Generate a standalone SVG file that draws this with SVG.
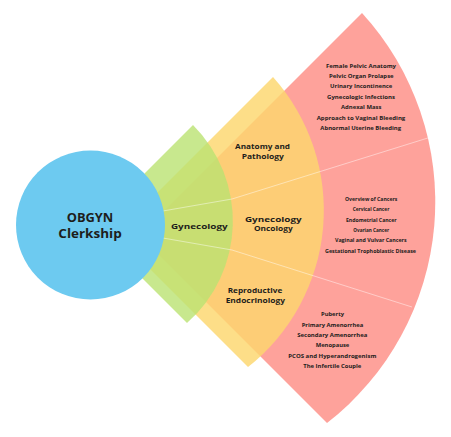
<svg xmlns="http://www.w3.org/2000/svg" width="451" height="437" viewBox="0 0 451 437">
  <style>
    text { font-family: "Open Sans", "Liberation Sans", sans-serif; font-weight: 700; fill: #1d1d1b; text-anchor: middle; }
    .big { font-size: 11.8px; }
    .mid { font-size: 7.8px; }
    .small { font-size: 6px; }
    .divider { fill: none; stroke: #ffffff; stroke-width: 0.9; stroke-opacity: 0.5; }
  </style>
  <rect width="451" height="437" fill="#ffffff"/>

  <g id="topics-sector">
    <path d="M139.5 235.5 L362 13 A280 280 0 0 1 327 423 Z" fill="#fea29b"/>
  </g>

  <g id="subspecialty-sector">
    <path d="M115.5 234.5 L273 77 A200 200 0 0 1 248 367 Z" fill="#fdd76e" fill-opacity="0.82"/>
  </g>

  <g id="gynecology">
    <path d="M91 227 L193 125 A136 136 0 0 1 187 323 Z" fill="#bae272" fill-opacity="0.8"/>
  </g>

  <g id="dividers">
    <polyline class="divider" points="160,211.5 232,199 431,137"/>
    <polyline class="divider" points="160,237.5 232,250 412,307"/>
  </g>

  <g id="obgyn-clerkship">
    <circle cx="90.5" cy="225" r="74.5" fill="#6dcaf0"/>
    <text class="big" x="90" y="222.3" textLength="46.6" lengthAdjust="spacingAndGlyphs">OBGYN</text>
    <text class="big" x="90" y="237.8" textLength="63.4" lengthAdjust="spacingAndGlyphs">Clerkship</text>
  </g>

  <g id="gynecology-label">
    <text class="mid" x="199.3" y="229" textLength="56.7" lengthAdjust="spacingAndGlyphs">Gynecology</text>
  </g>

  <g id="anatomy-pathology">
    <text class="mid" x="262.5" y="149.2" textLength="55" lengthAdjust="spacingAndGlyphs">Anatomy and</text>
    <text class="mid" x="262.8" y="158.8" textLength="42.3" lengthAdjust="spacingAndGlyphs">Pathology</text>
  </g>

  <g id="gynecology-oncology">
    <text class="mid" x="273.3" y="221.5" textLength="56.7" lengthAdjust="spacingAndGlyphs">Gynecology</text>
    <text class="mid" x="273.3" y="231.1" textLength="38.7" lengthAdjust="spacingAndGlyphs">Oncology</text>
  </g>

  <g id="reproductive-endocrinology">
    <text class="mid" x="255" y="293" textLength="54.7" lengthAdjust="spacingAndGlyphs">Reproductive</text>
    <text class="mid" x="255.3" y="302.6" textLength="59.3" lengthAdjust="spacingAndGlyphs">Endocrinology</text>
  </g>

  <g id="anatomy-topics">
    <text class="small" x="361" y="67.7" textLength="70" lengthAdjust="spacingAndGlyphs">Female Pelvic Anatomy</text>
    <text class="small" x="361.3" y="78" textLength="64.7" lengthAdjust="spacingAndGlyphs">Pelvic Organ Prolapse</text>
    <text class="small" x="361.2" y="88.3" textLength="62.3" lengthAdjust="spacingAndGlyphs">Urinary Incontinence</text>
    <text class="small" x="361" y="98.7" textLength="68" lengthAdjust="spacingAndGlyphs">Gynecologic Infections</text>
    <text class="small" x="361.2" y="109.3" textLength="40.3" lengthAdjust="spacingAndGlyphs">Adnexal Mass</text>
    <text class="small" x="361" y="120" textLength="88.6" lengthAdjust="spacingAndGlyphs">Approach to Vaginal Bleeding</text>
    <text class="small" x="360.7" y="130.3" textLength="80.7" lengthAdjust="spacingAndGlyphs">Abnormal Uterine Bleeding</text>
  </g>

  <g id="oncology-topics">
    <text class="small" x="371.2" y="201" textLength="52.3" lengthAdjust="spacingAndGlyphs">Overview of Cancers</text>
    <text class="small" x="371" y="211.3" textLength="36.6" lengthAdjust="spacingAndGlyphs">Cervical Cancer</text>
    <text class="small" x="371.3" y="221.7" textLength="50.7" lengthAdjust="spacingAndGlyphs">Endometrial Cancer</text>
    <text class="small" x="371.2" y="232" textLength="35.7" lengthAdjust="spacingAndGlyphs">Ovarian Cancer</text>
    <text class="small" x="370.8" y="242.3" textLength="71.7" lengthAdjust="spacingAndGlyphs">Vaginal and Vulvar Cancers</text>
    <text class="small" x="370.5" y="252.7" textLength="91" lengthAdjust="spacingAndGlyphs">Gestational Trophoblastic Disease</text>
  </g>

  <g id="endocrinology-topics">
    <text class="small" x="332.5" y="316.3" textLength="23" lengthAdjust="spacingAndGlyphs">Puberty</text>
    <text class="small" x="332.5" y="326.6" textLength="61.6" lengthAdjust="spacingAndGlyphs">Primary Amenorrhea</text>
    <text class="small" x="332.3" y="337" textLength="70" lengthAdjust="spacingAndGlyphs">Secondary Amenorrhea</text>
    <text class="small" x="332.5" y="347.3" textLength="33.6" lengthAdjust="spacingAndGlyphs">Menopause</text>
    <text class="small" x="332.3" y="357.6" textLength="88" lengthAdjust="spacingAndGlyphs">PCOS and Hyperandrogenism</text>
    <text class="small" x="332.3" y="367.8" textLength="58" lengthAdjust="spacingAndGlyphs">The Infertile Couple</text>
  </g>
</svg>
